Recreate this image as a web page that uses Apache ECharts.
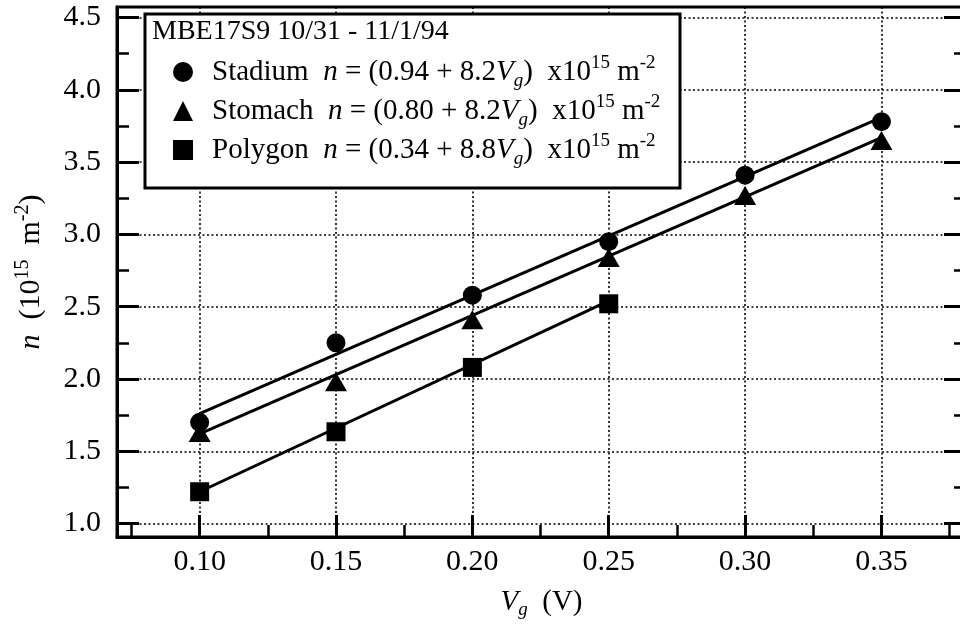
<!DOCTYPE html>
<html>
<head>
<meta charset="utf-8">
<script src="https://cdn.jsdelivr.net/npm/echarts@6/dist/echarts.min.js"></script>
<style>
  html, body { margin: 0; padding: 0; background: #fff; }
  #chart { width: 960px; height: 625px; }
</style>
</head>
<body>
<div id="chart"></div>
<script>
// Gate voltage samples (V)
const gateVoltage = [0.10, 0.15, 0.20, 0.25, 0.30, 0.35];
const polygonVoltage = [0.10, 0.15, 0.20, 0.25];

// Measured densities (1e15 m^-2)
const stadiumN = [1.70, 2.25, 2.58, 2.95, 3.41, 3.78];
const stomachN = [1.63, 1.98, 2.41, 2.84, 3.27, 3.65];
const polygonN = [1.22, 1.635, 2.08, 2.52];

// End points of the linear fits quoted in the legend
const stadiumFitV = [0.10, 0.35];
const stadiumFitN = [1.76, 3.81];
const stomachFitV = [0.10, 0.35];
const stomachFitN = [1.62, 3.67];
const polygonFitV = [0.10, 0.25];
const polygonFitN = [1.22, 2.54];

// Axis ticks
const xMajorTicks = [0.10, 0.15, 0.20, 0.25, 0.30, 0.35];
const xTickLabels = ['0.10', '0.15', '0.20', '0.25', '0.30', '0.35'];
const xMinorTicks = [0.075, 0.125, 0.175, 0.225, 0.275, 0.325, 0.375];
const yMajorTicks = [1.0, 1.5, 2.0, 2.5, 3.0, 3.5, 4.0, 4.5];
const yTickLabels = ['1.0', '1.5', '2.0', '2.5', '3.0', '3.5', '4.0', '4.5'];
const yMinorTicks = [1.25, 1.75, 2.25, 2.75, 3.25, 3.75, 4.25];

const X_MIN = 0.0697, X_MAX = 0.381;
const Y_MIN = 0.907, Y_MAX = 4.573;

const FONT = 'Liberation Serif';
const INK = '#000';

const pair = (xs, ys) => xs.map((x, i) => [x, ys[i]]);
const labelFrom = (values, labels) => v => {
  const i = values.findIndex(t => Math.abs(t - v) < 1e-6);
  return i >= 0 ? labels[i] : '';
};

function richSet(size) {
  const small = Math.round(size * 0.66);
  return {
    t:   { fontFamily: FONT, fontSize: size, color: INK },
    i:   { fontFamily: FONT, fontSize: size, color: INK, fontStyle: 'italic' },
    sub: { fontFamily: FONT, fontSize: small, color: INK, fontStyle: 'italic', verticalAlign: 'bottom', lineHeight: small },
    sup: { fontFamily: FONT, fontSize: small, color: INK, verticalAlign: 'top', lineHeight: small },
    gap: { fontFamily: FONT, fontSize: size, width: 14 }
  };
}

const legendText = {
  Stadium: '{gap| }{t|Stadium  }{i|n}{t| = (0.94 + 8.2}{i|V}{sub|g}{t|)  x10}{sup|15}{t| m}{sup|-2}',
  Stomach: '{gap| }{t|Stomach  }{i|n}{t| = (0.80 + 8.2}{i|V}{sub|g}{t|)  x10}{sup|15}{t| m}{sup|-2}',
  Polygon: '{gap| }{t|Polygon  }{i|n}{t| = (0.34 + 8.8}{i|V}{sub|g}{t|)  x10}{sup|15}{t| m}{sup|-2}'
};

function yAxisDef(opts) {
  return Object.assign({
    type: 'value', min: Y_MIN, max: Y_MAX,
    axisLine: { show: false },
    axisLabel: { show: false },
    splitLine: { show: false },
    axisTick: { show: false }
  }, opts);
}
function xAxisDef(opts) {
  return Object.assign({
    type: 'value', min: X_MIN, max: X_MAX,
    axisLine: { show: false },
    axisLabel: { show: false },
    splitLine: { show: false },
    axisTick: { show: false }
  }, opts);
}

const chart = echarts.init(document.getElementById('chart'), null, { renderer: 'canvas' });

chart.setOption({
  backgroundColor: '#fff',
  animation: false,
  textStyle: { fontFamily: FONT, color: INK },
  grid: {
    left: 117, top: 7, right: -6, bottom: 88,
    show: true, borderColor: INK, borderWidth: 3, backgroundColor: 'transparent',
    outerBoundsMode: 'none'
  },
  xAxis: [
    xAxisDef({
      position: 'bottom',
      axisLine: { show: true, lineStyle: { color: INK, width: 3 } },
      axisTick: { show: true, inside: true, length: 22, lineStyle: { color: INK, width: 3 }, customValues: xMajorTicks },
      axisLabel: {
        show: true, customValues: xMajorTicks, formatter: labelFrom(xMajorTicks, xTickLabels),
        fontFamily: FONT, fontSize: 30, color: INK, margin: 10
      },
      splitLine: { show: true, lineStyle: { color: INK, width: 1.6, type: [2, 2.5] } },
      name: '{i|V}{sub|g}{t|  (V)}',
      nameLocation: 'middle', nameGap: 48,
      nameTextStyle: { fontFamily: FONT, rich: richSet(29), lineHeight: 34 }
    }),
    xAxisDef({
      position: 'bottom',
      axisTick: { show: true, inside: true, length: 12, lineStyle: { color: INK, width: 2.5 }, customValues: xMinorTicks }
    })
  ],
  yAxis: [
    yAxisDef({
      position: 'left',
      axisLine: { show: true, lineStyle: { color: INK, width: 3 } },
      axisTick: { show: true, inside: true, length: 22, lineStyle: { color: INK, width: 3 }, customValues: yMajorTicks },
      axisLabel: {
        show: true, customValues: yMajorTicks, formatter: labelFrom(yMajorTicks, yTickLabels),
        fontFamily: FONT, fontSize: 30, color: INK, margin: 16
      },
      splitLine: { show: true, lineStyle: { color: INK, width: 1.6, type: [2, 2.5] } },
      name: '{i|n}{t|  (10}{sup|15}{t|  m}{sup|-2}{t|)}',
      nameLocation: 'middle', nameGap: 68, nameRotate: 90,
      nameTextStyle: { fontFamily: FONT, rich: richSet(30), lineHeight: 36 }
    }),
    yAxisDef({
      position: 'left',
      axisTick: { show: true, inside: true, length: 12, lineStyle: { color: INK, width: 2.5 }, customValues: yMinorTicks }
    }),
    yAxisDef({
      position: 'right',
      axisTick: { show: true, inside: true, length: 22, lineStyle: { color: INK, width: 3 }, customValues: yMajorTicks }
    }),
    yAxisDef({
      position: 'right',
      axisTick: { show: true, inside: true, length: 12, lineStyle: { color: INK, width: 2.5 }, customValues: yMinorTicks }
    })
  ],
  legend: {
    data: ['Stadium', 'Stomach', 'Polygon'],
    orient: 'vertical', left: 173, top: 54,
    itemWidth: 20, itemHeight: 20, itemGap: 3,
    padding: 0, z: 8,
    selectedMode: false,
    formatter: name => legendText[name],
    textStyle: { fontFamily: FONT, fontSize: 29, color: INK, lineHeight: 36, rich: richSet(29) }
  },
  graphic: [
    {
      type: 'rect', z: 6,
      shape: { x: 145, y: 14, width: 535, height: 174 },
      style: { fill: '#fff', stroke: INK, lineWidth: 3 }
    },
    {
      type: 'text', z: 8, left: 152, top: 18,
      style: { text: 'MBE17S9 10/31 - 11/1/94', fontFamily: FONT, fontSize: 28, fill: INK }
    }
  ],
  series: [
    { name: 'Stadium fit', type: 'line', data: pair(stadiumFitV, stadiumFitN), symbol: 'none',
      lineStyle: { color: INK, width: 3 }, z: 2, silent: true },
    { name: 'Stomach fit', type: 'line', data: pair(stomachFitV, stomachFitN), symbol: 'none',
      lineStyle: { color: INK, width: 3 }, z: 2, silent: true },
    { name: 'Polygon fit', type: 'line', data: pair(polygonFitV, polygonFitN), symbol: 'none',
      lineStyle: { color: INK, width: 3 }, z: 2, silent: true },
    { name: 'Stadium', type: 'scatter', data: pair(gateVoltage, stadiumN), symbol: 'circle',
      symbolSize: 19, itemStyle: { color: INK, opacity: 1 }, z: 3 },
    { name: 'Stomach', type: 'scatter', data: pair(gateVoltage, stomachN), symbol: 'triangle',
      symbolSize: [22, 19], itemStyle: { color: INK, opacity: 1 }, z: 3 },
    { name: 'Polygon', type: 'scatter', data: pair(polygonVoltage, polygonN), symbol: 'rect',
      symbolSize: 19, itemStyle: { color: INK, opacity: 1 }, z: 3 }
  ]
});
</script>
</body>
</html>
